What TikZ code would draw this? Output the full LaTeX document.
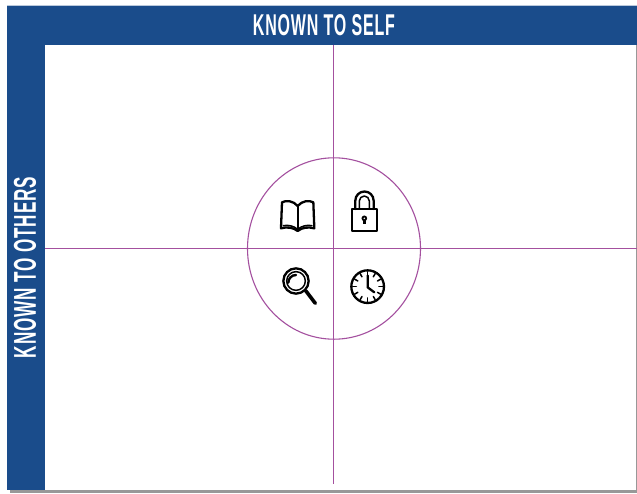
\documentclass[tikz,border=0pt]{standalone}
\usepackage{graphicx}
\usepackage{fontspec}
\setmainfont[LetterSpace=5]{Liberation Sans}
\definecolor{bandblue}{HTML}{1A4C8B}
\definecolor{axispurple}{HTML}{A4509F}
\definecolor{shadowgray}{HTML}{989898}
\tikzset{
  band/.style={fill=bandblue,draw=none},
  shadow/.style={fill=shadowgray,draw=none},
  axis/.style={draw=axispurple,line width=1.7pt},
  ring/.style={draw=axispurple,line width=1.1pt},
  icon/.style={draw=black,line width=2.3pt,line join=round,line cap=round},
  thinicon/.style={draw=black,line width=1.5pt,line join=round,line cap=round},
  bandlabel/.style={text=white,inner sep=0pt,font=\bfseries}
}
\begin{document}
\begin{tikzpicture}[x=1pt,y=-1pt]
\useasboundingbox (0,0) rectangle (637,493);
\fill[white] (0,0) rectangle (637,493);
% shadow
\fill[shadow] (10,490) rectangle (637,493);
\fill[shadow] (635.6,30) rectangle (637,493);
% frame bands
\fill[band] (7,6) rectangle (637,45);
\fill[band] (7,45) rectangle (45,490);
\draw[white!70!bandblue,line width=0.8pt] (7,5.8) -- (637,5.8);
% axes
\coordinate (top) at (333.5,45);
\coordinate (bottom) at (333.5,484);
\coordinate (left) at (45,248.5);
\coordinate (right) at (637,248.5);
\draw[axis] (top) -- (bottom);
\draw[axis] (left) -- (right);
\coordinate (hub) at (334,248.5);
\draw[ring] (hub) ellipse [x radius=86.5,y radius=90.7];
% labels
\node[bandlabel] (selflabel) at (324,25.5) {\resizebox{142pt}{21pt}{KNOWN TO SELF}};
\node[bandlabel,rotate=90] (otherslabel) at (25,267.5) {\resizebox{181pt}{22pt}{KNOWN TO OTHERS}};
% icons drawn in zoom coordinates
\begin{scope}[shift={(240,150)},x=0.3333pt,y=-0.3333pt]
  % book
  \draw[icon] (173,168) .. controls (160,152) and (138,150) .. (126,157)
     -- (123,235) .. controls (140,230) and (160,232) .. (173,243)
     .. controls (186,232) and (206,230) .. (223,235)
     -- (220,157) .. controls (208,150) and (186,152) .. (173,168) -- cycle;
  \draw[icon] (173,168) -- (173,240);
  \draw[thinicon] (130,227) .. controls (145,224) and (162,228) .. (173,238)
     .. controls (184,228) and (201,224) .. (216,227);
  % lock
  \draw[icon] (335,177) rectangle (412,243);
  \draw[icon] (346,177) -- (346,152) arc[start angle=180,end angle=360,radius=27.5] -- (401,177);
  \draw[thinicon] (358,177) -- (358,153) arc[start angle=180,end angle=360,radius=15] -- (388,177);
  \fill (373,205) circle[radius=8.5];
  \fill (369,205) rectangle (377,223);
  \fill[white] (373,205) circle[radius=2.5];
  % magnifier
  \draw[icon] (168,393) circle[radius=38];
  \draw[thinicon] (168,393) circle[radius=28];
  \draw[black,line width=2.4pt,line cap=round] (145,398) arc[start angle=180,end angle=270,radius=23];
  \draw[black,line width=3.6pt,line cap=round] (197,422) -- (226,460);
  % clock
  \draw[icon] (383,410) circle[radius=49];
  \foreach \a in {0,30,...,330}{
    \draw[thinicon] ({383+45*cos(\a)},{410+45*sin(\a)}) -- ({383+34*cos(\a)},{410+34*sin(\a)});
  }
  \draw[icon] (383,376) -- (383,412) -- (403,427);
\end{scope}
\end{tikzpicture}
\end{document}
